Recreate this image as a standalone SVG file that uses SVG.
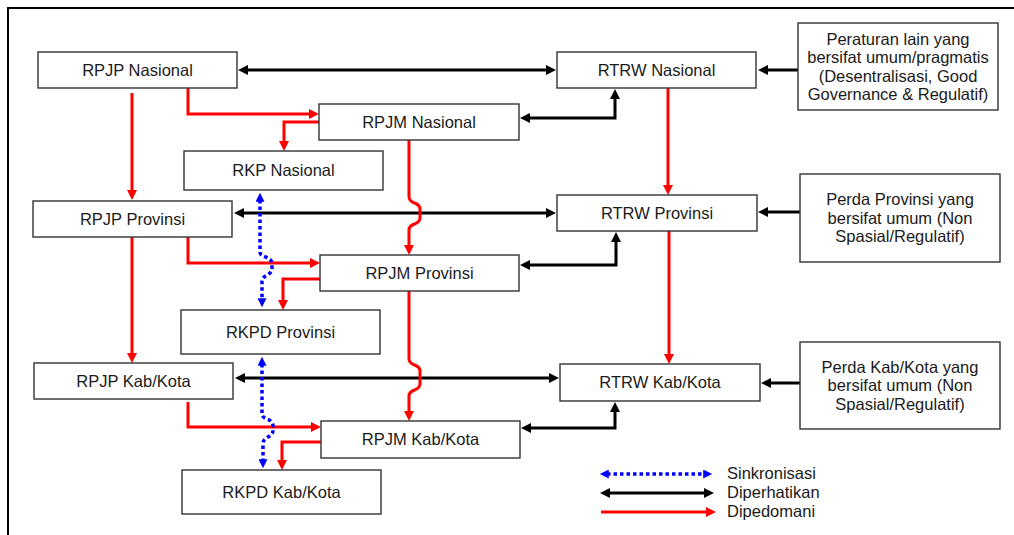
<svg xmlns="http://www.w3.org/2000/svg" width="1014" height="535" viewBox="0 0 1014 535">
<style>
.box{fill:#fff;stroke:#333;stroke-width:1.4}
.t{font-family:"Liberation Sans",Arial,sans-serif;font-size:16.5px;fill:#1a1a1a;text-anchor:middle}
.lg{font-family:"Liberation Sans",Arial,sans-serif;font-size:16.5px;fill:#1a1a1a}
.blk{fill:none;stroke:#000;stroke-width:3}
.red{fill:none;stroke:#f00;stroke-width:3}
.blu{fill:none;stroke:#00f;stroke-width:3.5;stroke-dasharray:3.5 3}
</style>
<defs>
<marker id="mb" viewBox="0 0 10 10" refX="2" refY="5" markerWidth="11" markerHeight="10" markerUnits="userSpaceOnUse" orient="auto-start-reverse"><path d="M0,0 L10,5 L0,10 z" fill="#000"/></marker>
<marker id="mr" viewBox="0 0 10 10" refX="2" refY="5" markerWidth="10" markerHeight="10" markerUnits="userSpaceOnUse" orient="auto-start-reverse"><path d="M0,0 L10,5 L0,10 z" fill="#f00"/></marker>
<marker id="mu" viewBox="0 0 10 10" refX="2" refY="5" markerWidth="10" markerHeight="9" markerUnits="userSpaceOnUse" orient="auto-start-reverse"><path d="M0,0 L10,5 L0,10 z" fill="#00f"/></marker>
</defs>
<rect width="1014" height="535" fill="#fff"/>
<path d="M8,535 V8 H1014" fill="none" stroke="#000" stroke-width="2"/>

<g id="connectors">
<!-- black: diperhatikan -->
<path class="blk" d="M246,70 H548" marker-start="url(#mb)" marker-end="url(#mb)"/>
<path class="blk" d="M798,70 H766" marker-end="url(#mb)"/>
<path class="blk" d="M528,118 H615 V97" marker-start="url(#mb)" marker-end="url(#mb)"/>
<path class="blk" d="M242,213 H548" marker-start="url(#mb)" marker-end="url(#mb)"/>
<path class="blk" d="M800,212 H766" marker-end="url(#mb)"/>
<path class="blk" d="M528,265 H616 V240" marker-start="url(#mb)" marker-end="url(#mb)"/>
<path class="blk" d="M243,378 H551" marker-start="url(#mb)" marker-end="url(#mb)"/>
<path class="blk" d="M800,383 H769" marker-end="url(#mb)"/>
<path class="blk" d="M529,428 H615 V410" marker-start="url(#mb)" marker-end="url(#mb)"/>
<!-- red: dipedomani -->
<path class="red" d="M132,93 V192" marker-end="url(#mr)"/>
<path class="red" d="M188,88 V114 H311" marker-end="url(#mr)"/>
<path class="red" d="M319,122 H284 V143" marker-end="url(#mr)"/>
<path class="red" d="M668,88 V187" marker-end="url(#mr)"/>
<path class="red" d="M409,140 V197 C409,205 420,201 420,209 V218 C420,226 409,222 409,230 V247" marker-end="url(#mr)"/>
<path class="red" d="M132,237 V355" marker-end="url(#mr)"/>
<path class="red" d="M188,237 V263 H312" marker-end="url(#mr)"/>
<path class="red" d="M320,279 H283 V302" marker-end="url(#mr)"/>
<path class="red" d="M669,231 V356" marker-end="url(#mr)"/>
<path class="red" d="M409,291 V359 C409,367 420,363 420,371 V384 C420,392 409,388 409,396 V413" marker-end="url(#mr)"/>
<path class="red" d="M188,402 V427 H313" marker-end="url(#mr)"/>
<path class="red" d="M321,442 H282 V462" marker-end="url(#mr)"/>
<!-- blue: sinkronisasi -->
<path class="blu" d="M260,200 V252 C260,258 272,256 272,264 V268 C272,276 262,274 262,282 V300" marker-start="url(#mu)" marker-end="url(#mu)"/>
<path class="blu" d="M262,364 V414 C262,420 273,418 273,426 V430 C273,438 263,436 263,444 V461" marker-start="url(#mu)" marker-end="url(#mu)"/>
</g>

<g id="rpjp-nasional"><rect class="box" x="38" y="52" width="199" height="36"/><text class="t" x="137.5" y="75.5">RPJP Nasional</text></g>
<g id="rpjm-nasional"><rect class="box" x="319" y="104" width="200" height="36"/><text class="t" x="419" y="127.5">RPJM Nasional</text></g>
<g id="rkp-nasional"><rect class="box" x="184" y="151" width="199" height="39"/><text class="t" x="283.5" y="176">RKP Nasional</text></g>
<g id="rtrw-nasional"><rect class="box" x="557" y="52" width="199" height="36"/><text class="t" x="656.5" y="75.5">RTRW Nasional</text></g>
<g id="peraturan-lain"><rect class="box" x="798" y="23" width="200" height="87"/>
<text class="t" x="898" y="44.5">Peraturan lain yang</text>
<text class="t" x="898" y="63">bersifat umum/pragmatis</text>
<text class="t" x="898" y="81.5">(Desentralisasi, Good</text>
<text class="t" x="898" y="100">Governance &amp; Regulatif)</text></g>

<g id="rpjp-provinsi"><rect class="box" x="33" y="201" width="199" height="36"/><text class="t" x="132.5" y="224.5">RPJP Provinsi</text></g>
<g id="rpjm-provinsi"><rect class="box" x="320" y="255" width="199" height="36"/><text class="t" x="419.5" y="278.5">RPJM Provinsi</text></g>
<g id="rkpd-provinsi"><rect class="box" x="181" y="310" width="199" height="44"/><text class="t" x="280.5" y="337.5">RKPD Provinsi</text></g>
<g id="rtrw-provinsi"><rect class="box" x="557" y="195" width="200" height="36"/><text class="t" x="657" y="218.5">RTRW Provinsi</text></g>
<g id="perda-provinsi"><rect class="box" x="800" y="174" width="200" height="88"/>
<text class="t" x="900" y="205">Perda Provinsi yang</text>
<text class="t" x="900" y="223.5">bersifat umum (Non</text>
<text class="t" x="900" y="242">Spasial/Regulatif)</text></g>

<g id="rpjp-kabkota"><rect class="box" x="34" y="363" width="199" height="36"/><text class="t" x="133.5" y="386.5">RPJP Kab/Kota</text></g>
<g id="rpjm-kabkota"><rect class="box" x="321" y="421" width="199" height="37"/><text class="t" x="420.5" y="445">RPJM Kab/Kota</text></g>
<g id="rkpd-kabkota"><rect class="box" x="182" y="470" width="199" height="44"/><text class="t" x="281.5" y="497.5">RKPD Kab/Kota</text></g>
<g id="rtrw-kabkota"><rect class="box" x="560" y="364" width="200" height="37"/><text class="t" x="660" y="388">RTRW Kab/Kota</text></g>
<g id="perda-kabkota"><rect class="box" x="800" y="342" width="200" height="87"/>
<text class="t" x="900" y="372.5">Perda Kab/Kota yang</text>
<text class="t" x="900" y="391">bersifat umum (Non</text>
<text class="t" x="900" y="409.5">Spasial/Regulatif)</text></g>

<g id="legend">
<path class="blu" d="M607,474 H705" marker-start="url(#mu)" marker-end="url(#mu)"/>
<path class="blk" d="M608,493 H706" marker-start="url(#mb)" marker-end="url(#mb)"/>
<path class="red" d="M601,512 H708" marker-end="url(#mr)"/>
<text class="lg" x="727" y="479">Sinkronisasi</text>
<text class="lg" x="727" y="498">Diperhatikan</text>
<text class="lg" x="727" y="517">Dipedomani</text>
</g>
</svg>
